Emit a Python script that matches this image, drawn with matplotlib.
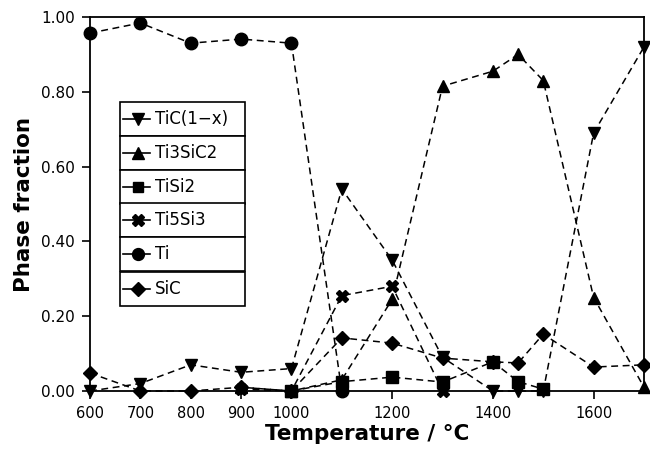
import matplotlib
matplotlib.use("Agg")
import matplotlib.pyplot as plt
from matplotlib.patches import Rectangle
from matplotlib.lines import Line2D

# phase fractions
temps_tic = [600, 700, 800, 900, 1000, 1100, 1200, 1300, 1400, 1450, 1500, 1600, 1700]
tic = [0.0, 0.02, 0.07, 0.05, 0.06, 0.54, 0.35, 0.09, 0.0, 0.0, 0.0, 0.69, 0.92]

temps_312 = [900, 1000, 1100, 1200, 1300, 1400, 1450, 1500, 1600, 1700]
ti3sic2 = [0.01, 0.0, 0.03, 0.245, 0.815, 0.855, 0.90, 0.83, 0.25, 0.01]

temps_tisi2 = [1000, 1100, 1200, 1300, 1400, 1450, 1500]
tisi2 = [0.0, 0.025, 0.037, 0.024, 0.078, 0.025, 0.005]

temps_553 = [900, 1000, 1100, 1200, 1300]
ti5si3 = [0.005, 0.0, 0.255, 0.28, 0.0]

temps_ti = [600, 700, 800, 900, 1000, 1100]
ti = [0.957, 0.984, 0.93, 0.941, 0.93, 0.0]

temps_sic = [600, 700, 800, 900, 1000, 1100, 1200, 1300, 1400, 1450, 1500, 1600, 1700]
sic = [0.048, 0.0, 0.0, 0.01, 0.0, 0.142, 0.128, 0.088, 0.078, 0.075, 0.152, 0.064, 0.07]

labels = ["TiC(1\u2212x)", "Ti3SiC2", "TiSi2", "Ti5Si3", "Ti", "SiC"]
xticks = [600, 700, 800, 900, 1000, 1200, 1400, 1600]
yticks = [0.0, 0.2, 0.4, 0.6, 0.8, 1.0]

series = [
    (temps_tic, tic, "v", 9),
    (temps_312, ti3sic2, "^", 9),
    (temps_tisi2, tisi2, "s", 8),
    (temps_553, ti5si3, "X", 9),
    (temps_ti, ti, "o", 9),
    (temps_sic, sic, "D", 7),
]

fig = plt.figure(figsize=(6.5, 4.55), dpi=100)
ax = fig.add_axes([90/650, 1-391/455, (644-90)/650, (391-17)/455])

for xs, ys, mk, ms in series:
    ax.plot(xs, ys, linestyle=(0, (4.5, 3)), color="black", lw=1.1,
            marker=mk, markersize=ms, markerfacecolor="black",
            markeredgecolor="black", clip_on=False, zorder=3)

ax.set_xlim(600, 1700)
ax.set_ylim(0, 1.0)
ax.set_xticks(xticks)
ax.set_yticks(yticks)
ax.set_yticklabels(["%.2f" % v for v in yticks])
ax.tick_params(direction="out", length=6, width=1.2, labelsize=10.5, pad=5)
ax.tick_params(axis="y", labelsize=11)
for s in ax.spines.values():
    s.set_linewidth(1.3)

ax.set_xlabel("Temperature / \u00b0C", fontsize=15.5, fontweight="bold", labelpad=2)
ax.set_ylabel("Phase fraction", fontsize=15.5, fontweight="bold", labelpad=5)

# stacked boxed legend, one cell per phase
row_tops = [102, 136, 170, 203, 237, 272]
row_h = 33.5
lx0, lx1 = 120, 245
for i, (lab, (xs, ys, mk, ms)) in enumerate(zip(labels, series)):
    top = row_tops[i]
    rect = Rectangle((lx0, 455 - top - row_h), lx1 - lx0, row_h,
                     transform=None, fill=True, facecolor="white",
                     edgecolor="black", lw=1.2, zorder=5)
    fig.patches.append(rect)
    yc = (455 - top - row_h / 2) / 455
    fig.add_artist(Line2D([123/650, 150/650], [yc, yc], color="black", lw=1.2, zorder=6))
    fig.add_artist(Line2D([138/650], [yc], marker=mk, markersize=ms * 0.95,
                          color="black", zorder=7))
    fig.text(155/650, yc, lab, fontsize=12, va="center", ha="left", zorder=8)

fig.savefig("out.png", dpi=100)
